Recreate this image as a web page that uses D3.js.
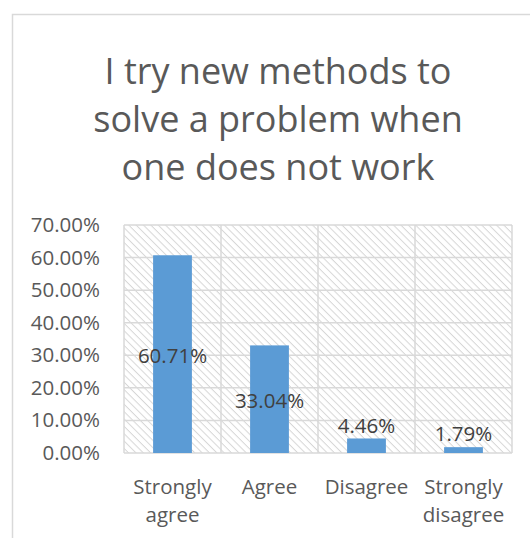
<!DOCTYPE html>
<html>
<head>
<meta charset="utf-8">
<script src="https://cdn.jsdelivr.net/npm/d3@7"></script>
<style>
  html, body { margin: 0; padding: 0; background: #fff; }
  svg { display: block; }
</style>
</head>
<body>
<svg id="chart" width="530" height="538"></svg>
<script>
// Survey responses
const categories = ["Strongly agree", "Agree", "Disagree", "Strongly disagree"];
const categoryLines = [["Strongly", "agree"], ["Agree"], ["Disagree"], ["Strongly", "disagree"]];
const values = [60.71, 33.04, 4.46, 1.79];
const yTicks = [0, 10, 20, 30, 40, 50, 60, 70];
const titleLines = ["I try new methods to", "solve a problem when", "one does not work"];

const W = 530, H = 538;
const font = "'Open Sans', sans-serif";
const svg = d3.select("#chart");

// Diagonal hatch fill for the plot background (downward diagonal)
const defs = svg.append("defs");
const pat = defs.append("pattern")
  .attr("id", "hatch")
  .attr("patternUnits", "userSpaceOnUse")
  .attr("width", 5.2).attr("height", 5.2)
  .attr("patternTransform", "rotate(45)");
pat.append("line")
  .attr("x1", 0).attr("y1", 0).attr("x2", 5.2).attr("y2", 0)
  .attr("stroke", "#d6d6d6").attr("stroke-width", 2);

// Chart area outline (runs off the right and bottom edges)
svg.append("path")
  .attr("d", `M12.5,${H + 2} L12.5,14.5 L${W + 2},14.5`)
  .attr("fill", "none").attr("stroke", "#d9d9d9").attr("stroke-width", 1.5);

// Title
svg.append("g").selectAll("text").data(titleLines).join("text")
  .attr("x", 278).attr("y", (d, i) => 84 + i * 48)
  .attr("text-anchor", "middle")
  .attr("font-family", font).attr("font-size", 36)
  .attr("fill", "#595959")
  .text(d => d);

const plot = { left: 124, right: 512, top: 225, bottom: 453 };

const x = d3.scaleBand().domain(categories).range([plot.left, plot.right]).paddingInner(0).paddingOuter(0);
const y = d3.scaleLinear().domain([0, 70]).range([plot.bottom, plot.top]);

// Plot background
svg.append("rect")
  .attr("x", plot.left).attr("y", plot.top)
  .attr("width", plot.right - plot.left).attr("height", plot.bottom - plot.top)
  .attr("fill", "url(#hatch)");

// Horizontal gridlines
svg.append("g").selectAll("line").data(yTicks).join("line")
  .attr("x1", plot.left).attr("x2", plot.right)
  .attr("y1", d => y(d)).attr("y2", d => y(d))
  .attr("stroke", "#d9d9d9").attr("stroke-width", 1.5);

// Vertical gridlines at category boundaries
const bounds = categories.map(c => x(c)).concat([plot.right]);
svg.append("g").selectAll("line").data(bounds).join("line")
  .attr("x1", d => d).attr("x2", d => d)
  .attr("y1", plot.top).attr("y2", plot.bottom)
  .attr("stroke", "#d9d9d9").attr("stroke-width", 1.5);

// Bars
const barW = x.bandwidth() * 0.4;
svg.append("g").selectAll("rect").data(values).join("rect")
  .attr("x", (d, i) => x(categories[i]) + (x.bandwidth() - barW) / 2)
  .attr("y", d => y(d))
  .attr("width", barW)
  .attr("height", d => y(0) - y(d))
  .attr("fill", "#5b9bd5");

// Value labels: centred on tall bars, just above short ones
svg.append("g").selectAll("text").data(values).join("text")
  .attr("x", (d, i) => x(categories[i]) + x.bandwidth() / 2)
  .attr("y", d => {
    const h = y(0) - y(d);
    return h > 30 ? (y(d) + y(0)) / 2 + 2 : y(d) - 13;
  })
  .attr("dy", "0.35em")
  .attr("text-anchor", "middle")
  .attr("font-family", font).attr("font-size", 20.5)
  .attr("fill", "#404040")
  .text(d => d.toFixed(2) + "%");

// Y axis labels
const yAxis = d3.axisLeft(y).tickValues(yTicks).tickSize(0).tickPadding(24)
  .tickFormat(d => d.toFixed(2) + "%");
const yg = svg.append("g").attr("transform", `translate(${plot.left},0)`).call(yAxis);
yg.select(".domain").remove();
yg.selectAll("text")
  .attr("font-family", font).attr("font-size", 20.5).attr("fill", "#595959");

// Category labels
const xg = svg.append("g");
categoryLines.forEach((lines, i) => {
  const cx = x(categories[i]) + x.bandwidth() / 2;
  const t = xg.append("text")
    .attr("x", cx)
    .attr("y", 494)
    .attr("text-anchor", "middle")
    .attr("font-family", font).attr("font-size", 20.5)
    .attr("fill", "#595959");
  lines.forEach((ln, j) => {
    t.append("tspan").attr("x", cx)
      .attr("dy", j === 0 ? 0 : 28).text(ln);
  });
});
</script>
</body>
</html>
